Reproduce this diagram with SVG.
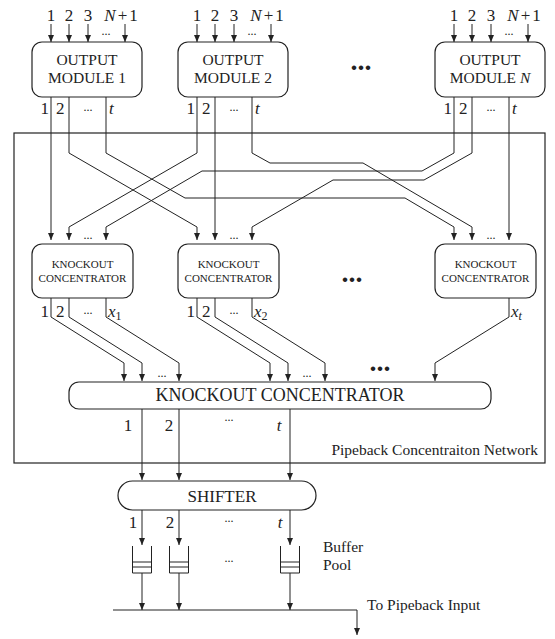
<svg xmlns="http://www.w3.org/2000/svg" width="555" height="639" viewBox="0 0 555 639">
<style>
  text { font-family: "Liberation Serif", "Times New Roman", serif; fill: #222; }
  .box { fill: #fff; stroke: #222; stroke-width: 1.2; }
  .ln { fill: none; stroke: #222; stroke-width: 1; }
  .arr { fill: none; stroke: #222; stroke-width: 1; marker-end: url(#ah); }
  .m { font-size: 17px; }
  .i { font-style: italic; }
  .sd { font-size: 12px; }
  .bd { font-size: 28px; font-weight: bold; }
  .mt { font-size: 15.5px; }
  .kt { font-size: 11px; }
  .lb { font-size: 15.5px; }
</style>
<defs>
  <marker id="ah" markerWidth="7" markerHeight="6" refX="7" refY="3" orient="auto" markerUnits="userSpaceOnUse">
    <path d="M0,0 L7,3 L0,6 z" fill="#222"/>
  </marker>
</defs>
<rect width="555" height="639" fill="#fff"/>

<g id="network">
  <rect x="14" y="133" width="531" height="330" fill="none" stroke="#222" stroke-width="1.2"/>
  <text class="lb" x="538" y="455" text-anchor="end">Pipeback Concentraiton Network</text>
</g>

<g id="connectors">
  <path class="arr" d="M51,24 V42"/><path class="arr" d="M69,24 V42"/><path class="arr" d="M88,24 V42"/><path class="arr" d="M125,24 V42"/>
  <path class="arr" d="M197,24 V42"/><path class="arr" d="M215,24 V42"/><path class="arr" d="M234,24 V42"/><path class="arr" d="M271,24 V42"/>
  <path class="arr" d="M454,24 V42"/><path class="arr" d="M472,24 V42"/><path class="arr" d="M491,24 V42"/><path class="arr" d="M528,24 V42"/>
  <path class="arr" d="M51,97 V240"/>
  <path class="arr" d="M69,97 V153 L197,227 V240"/>
  <path class="arr" d="M106,97 V153 L185,198 H405 L454,227 V240"/>
  <path class="arr" d="M197,97 V153 L69,227 V240"/>
  <path class="arr" d="M215,97 V240"/>
  <path class="arr" d="M252,97 V153 L270,163 H363 L472,227 V240"/>
  <path class="arr" d="M454,97 V153 L422,171 H202 L106,227 V240"/>
  <path class="arr" d="M472,97 V153 L424,180 H333 L252,227 V240"/>
  <path class="arr" d="M509,97 V240"/>
  <path class="arr" d="M51,298 V317 L124,363 V381"/>
  <path class="arr" d="M69,298 V317 L142,363 V381"/>
  <path class="arr" d="M106,298 V317 L179,363 V381"/>
  <path class="arr" d="M197,298 V317 L270,363 V381"/>
  <path class="arr" d="M215,298 V317 L288,363 V381"/>
  <path class="arr" d="M252,298 V317 L325,363 V381"/>
  <path class="arr" d="M509,298 V317 L435,363 V381"/>
  <path class="arr" d="M142,409 V480"/>
  <path class="arr" d="M179,409 V480"/>
  <path class="arr" d="M290,409 V480"/>
  <path class="arr" d="M142,510 V545"/>
  <path class="arr" d="M179,510 V545"/>
  <path class="arr" d="M290,510 V545"/>
  <path class="arr" d="M142,573 V610"/>
  <path class="arr" d="M179,573 V610"/>
  <path class="arr" d="M290,573 V610"/>
  <path class="arr" d="M113,610 H357 V635"/>
</g>

<g id="module1">
  <rect class="box" x="32" y="42" width="110" height="55" rx="10"/>
  <text class="mt" x="87" y="65" text-anchor="middle">OUTPUT</text>
  <text class="mt" x="87" y="83" text-anchor="middle">MODULE 1</text>
  <text class="m" x="51" y="21" text-anchor="middle">1</text>
  <text class="m" x="69" y="21" text-anchor="middle">2</text>
  <text class="m" x="88" y="21" text-anchor="middle">3</text>
  <text class="m" x="121" y="21" text-anchor="middle"><tspan class="i">N</tspan><tspan dx="2">+</tspan><tspan dx="2">1</tspan></text>
  <text class="sd" x="106" y="35" text-anchor="middle">...</text>
  <text class="m" x="49" y="114" text-anchor="end">1</text>
  <text class="m" x="56" y="114">2</text>
  <text class="sd" x="88" y="111" text-anchor="middle">...</text>
  <text class="m i" x="109" y="114">t</text>
</g>
<g id="module2">
  <rect class="box" x="178" y="42" width="110" height="55" rx="10"/>
  <text class="mt" x="233" y="65" text-anchor="middle">OUTPUT</text>
  <text class="mt" x="233" y="83" text-anchor="middle">MODULE 2</text>
  <text class="m" x="197" y="21" text-anchor="middle">1</text>
  <text class="m" x="215" y="21" text-anchor="middle">2</text>
  <text class="m" x="234" y="21" text-anchor="middle">3</text>
  <text class="m" x="267" y="21" text-anchor="middle"><tspan class="i">N</tspan><tspan dx="2">+</tspan><tspan dx="2">1</tspan></text>
  <text class="sd" x="252" y="35" text-anchor="middle">...</text>
  <text class="m" x="195" y="114" text-anchor="end">1</text>
  <text class="m" x="202" y="114">2</text>
  <text class="sd" x="234" y="111" text-anchor="middle">...</text>
  <text class="m i" x="255" y="114">t</text>
</g>
<g id="moduleN">
  <rect class="box" x="435" y="42" width="110" height="55" rx="10"/>
  <text class="mt" x="490" y="65" text-anchor="middle">OUTPUT</text>
  <text class="mt" x="490" y="83" text-anchor="middle">MODULE <tspan class="i">N</tspan></text>
  <text class="m" x="454" y="21" text-anchor="middle">1</text>
  <text class="m" x="472" y="21" text-anchor="middle">2</text>
  <text class="m" x="491" y="21" text-anchor="middle">3</text>
  <text class="m" x="524" y="21" text-anchor="middle"><tspan class="i">N</tspan><tspan dx="2">+</tspan><tspan dx="2">1</tspan></text>
  <text class="sd" x="509" y="35" text-anchor="middle">...</text>
  <text class="m" x="452" y="114" text-anchor="end">1</text>
  <text class="m" x="459" y="114">2</text>
  <text class="sd" x="491" y="111" text-anchor="middle">...</text>
  <text class="m i" x="512" y="114">t</text>
</g>
<text class="bd" x="361" y="70" text-anchor="middle">...</text>

<g id="conc1">
  <rect class="box" x="32" y="244" width="101" height="54" rx="10"/>
  <text class="kt" x="82.5" y="268" text-anchor="middle">KNOCKOUT</text>
  <text class="kt" x="82.5" y="282" text-anchor="middle">CONCENTRATOR</text>
  <text class="sd" x="88" y="239" text-anchor="middle">...</text>
  <text class="m" x="49" y="317" text-anchor="end">1</text>
  <text class="m" x="56" y="317">2</text>
  <text class="sd" x="88" y="314" text-anchor="middle">...</text>
  <text class="m" x="108" y="317"><tspan class="i">x</tspan><tspan font-size="12" dy="3">1</tspan></text>
</g>
<g id="conc2">
  <rect class="box" x="178" y="244" width="101" height="54" rx="10"/>
  <text class="kt" x="228.5" y="268" text-anchor="middle">KNOCKOUT</text>
  <text class="kt" x="228.5" y="282" text-anchor="middle">CONCENTRATOR</text>
  <text class="sd" x="234" y="239" text-anchor="middle">...</text>
  <text class="m" x="195" y="317" text-anchor="end">1</text>
  <text class="m" x="202" y="317">2</text>
  <text class="sd" x="234" y="314" text-anchor="middle">...</text>
  <text class="m" x="254" y="317"><tspan class="i">x</tspan><tspan font-size="12" dy="3">2</tspan></text>
</g>
<g id="concN">
  <rect class="box" x="435" y="244" width="101" height="54" rx="10"/>
  <text class="kt" x="485.5" y="268" text-anchor="middle">KNOCKOUT</text>
  <text class="kt" x="485.5" y="282" text-anchor="middle">CONCENTRATOR</text>
  <text class="sd" x="491" y="239" text-anchor="middle">...</text>
  <text class="m" x="511" y="317"><tspan class="i">x</tspan><tspan font-size="12" dy="3" class="i">t</tspan></text>
</g>
<text class="bd" x="352" y="282" text-anchor="middle">...</text>

<g id="bigconc">
  <rect class="box" x="69" y="382" width="422" height="27" rx="10"/>
  <text x="280" y="401" font-size="18" text-anchor="middle">KNOCKOUT CONCENTRATOR</text>
  <text class="sd" x="162" y="377" text-anchor="middle">...</text>
  <text class="sd" x="307" y="377" text-anchor="middle">...</text>
  <text class="m" x="128" y="431" text-anchor="middle">1</text>
  <text class="m" x="169" y="431" text-anchor="middle">2</text>
  <text class="sd" x="229" y="421" text-anchor="middle">...</text>
  <text class="m i" x="279" y="431" text-anchor="middle">t</text>
</g>
<text class="bd" x="380" y="371" text-anchor="middle">...</text>

<g id="shifter">
  <rect class="box" x="118" y="481" width="198" height="29" rx="14.5"/>
  <text x="222" y="502" font-size="17" text-anchor="middle">SHIFTER</text>
  <text class="m" x="133" y="528" text-anchor="middle">1</text>
  <text class="m" x="170" y="528" text-anchor="middle">2</text>
  <text class="sd" x="229" y="522" text-anchor="middle">...</text>
  <text class="m i" x="280" y="528" text-anchor="middle">t</text>
</g>

<g id="buffer1">
  <path class="ln" d="M132.5,546 V573 H151.5 V546 M132.5,562 H151.5 M132.5,567 H151.5"/>
</g>
<g id="buffer2">
  <path class="ln" d="M169.5,546 V573 H188.5 V546 M169.5,562 H188.5 M169.5,567 H188.5"/>
</g>
<g id="bufferT">
  <path class="ln" d="M280.5,546 V573 H299.5 V546 M280.5,562 H299.5 M280.5,567 H299.5"/>
</g>
<text class="sd" x="229" y="562" text-anchor="middle">...</text>
<g id="pool-label">
  <text class="lb" x="323" y="552">Buffer</text>
  <text class="lb" x="323" y="570">Pool</text>
</g>
<g id="output-label">
  <text class="lb" x="367" y="610">To Pipeback Input</text>
</g>
</svg>
